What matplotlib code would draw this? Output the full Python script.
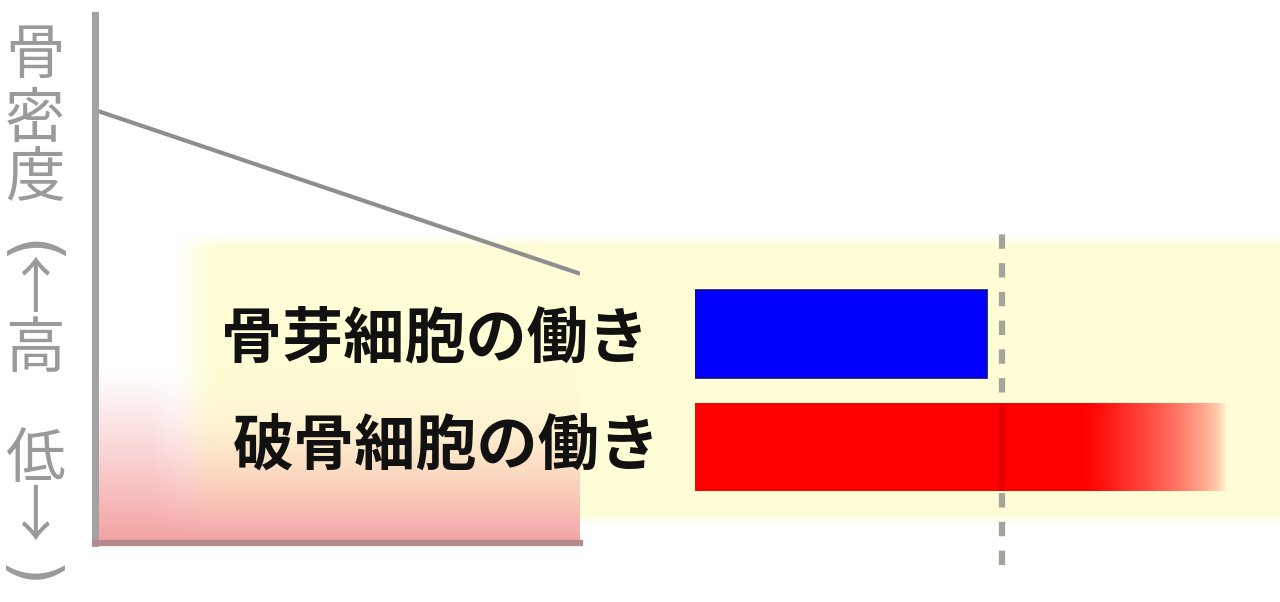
import numpy as np
import matplotlib
matplotlib.use('Agg')
import matplotlib.pyplot as plt

plt.rcParams['font.family'] = ['Noto Sans CJK JP', 'DejaVu Sans']

# data
cells = ['骨芽細胞の働き', '破骨細胞の働き']
activity = [95, 173]        # normal activity = 100 (dotted line)
bar_colors = ['#0000ff', '#ff0000']
normal = 100

time = [0, 1]
density = [82, 51]          # bone density, 0-100 scale

# vertical axis title, one character per line; parens are turned sideways
ylabel_chars = ['骨', '密', '度', '(', '↑', '高', '低', '↓', ')']
ylabel_pos = [57, 121, 180, 248, 290, 350, 460, 518, 572]

W, H = 1280, 602
fig = plt.figure(figsize=(12.8, 6.02), dpi=100)

# background: pale yellow band + pink gradient box (pixel coords)
bg = fig.add_axes([0, 0, 1, 1])
bg.set_xlim(0, W)
bg.set_ylim(H, 0)
bg.axis('off')

xx, yy = np.meshgrid(np.arange(W) + 0.5, np.arange(H) + 0.5)
img = np.ones((H, W, 3))
yellow = np.array([255, 253, 214]) / 255
pink = np.array([244, 164, 164]) / 255
band = (np.clip((xx - 175) / 40, 0, 1)
        * np.clip((yy - 236) / 10, 0, 1)
        * np.clip((524 - yy) / 10, 0, 1))
img = img * (1 - band[..., None]) + yellow * band[..., None]
t = np.clip((yy - 368) / (538 - 368), 0, 1)
k = np.clip((xx - 150) / 60, 0, 1)          # 0 left of band, 1 inside
wp = (t ** (1.1 + 0.8 * k)) * ((xx > 95) & (xx < 580) & (yy < 545))
img = img * (1 - wp[..., None]) + pink * wp[..., None]
bg.imshow(img, extent=[0, W, H, 0], zorder=0, interpolation='bilinear')

for ch, yp in zip(ylabel_chars, ylabel_pos):
    if ch in '()':
        # rotated glyph ink sits right/up of its box, nudge it back
        bg.text(27, yp + 5, ch, fontsize=47, color='#9a9a9a', ha='center',
                va='center', rotation=-90, family='DejaVu Sans')
    else:
        bg.text(35, yp, ch, fontsize=43, color='#9a9a9a', ha='center',
                va='center')

# left chart: bone density line
px = lambda v: v / W
py = lambda v: v / H
axl = fig.add_axes([px(95), py(H - 543), px(580 - 95), py(543 - 15)])
axl.patch.set_alpha(0)
axl.set_xlim(0, 1)
axl.set_ylim(0, 100)
axl.plot(time, density, color='#8e8e8e', lw=3, solid_capstyle='butt')
for s in ['top', 'right']:
    axl.spines[s].set_visible(False)
axl.spines['left'].set_color('#a2a2a2')
axl.spines['left'].set_linewidth(5)
axl.spines['bottom'].set_color('#b48c8c')
axl.spines['bottom'].set_linewidth(4.5)
axl.set_xticks([])
axl.set_yticks([])

for i, lab in enumerate(cells):
    bg.text(435 + 12 * i, 340 + 108 * i, lab, fontsize=44, fontweight='bold',
            color='#111111', ha='center', va='center')

# right: activity bars
unit = 3.07  # px per activity unit
axb = fig.add_axes([px(695), py(H - 570), px(W - 695), py(350)])
axb.patch.set_alpha(0)
axb.set_xlim(0, (W - 695) / unit)
axb.set_ylim(-1 + 350 / 113.5, -1)
axb.axis('off')

axb.axvline(normal, ymin=5 / 350, ymax=342 / 350, color='#a4a49a', lw=4.5,
            linestyle=(0, (2.3, 2.3)), dash_capstyle='butt', zorder=1)

bars = axb.barh(range(len(cells)), activity, height=88 / 113.5,
                color=bar_colors, zorder=2)
bars[0].set_edgecolor('#12127a')
bars[0].set_linewidth(1.2)

# red bar fades out towards its end
red = bars[1]
red.set_facecolor('none')
xg = np.linspace(0, activity[1], 400)
alpha = np.clip((activity[1] - xg) / 45.6, 0, 1) ** 0.6
grad = np.zeros((1, len(xg), 4))
grad[..., 0] = 1.0
grad[..., 3] = alpha
y0 = red.get_y()
h = red.get_height()
im = axb.imshow(grad, extent=[0, activity[1], y0 + h, y0], aspect='auto',
                interpolation='bilinear', zorder=3)
im.set_clip_path(red)
axb.plot([normal, normal], [y0, y0 + h], color='#d00000', lw=4, alpha=0.6,
         solid_capstyle='butt', zorder=4)
axb.set_xlim(0, (W - 695) / unit)
axb.set_ylim(-1 + 350 / 113.5, -1)

fig.savefig('out.png', dpi=100)
